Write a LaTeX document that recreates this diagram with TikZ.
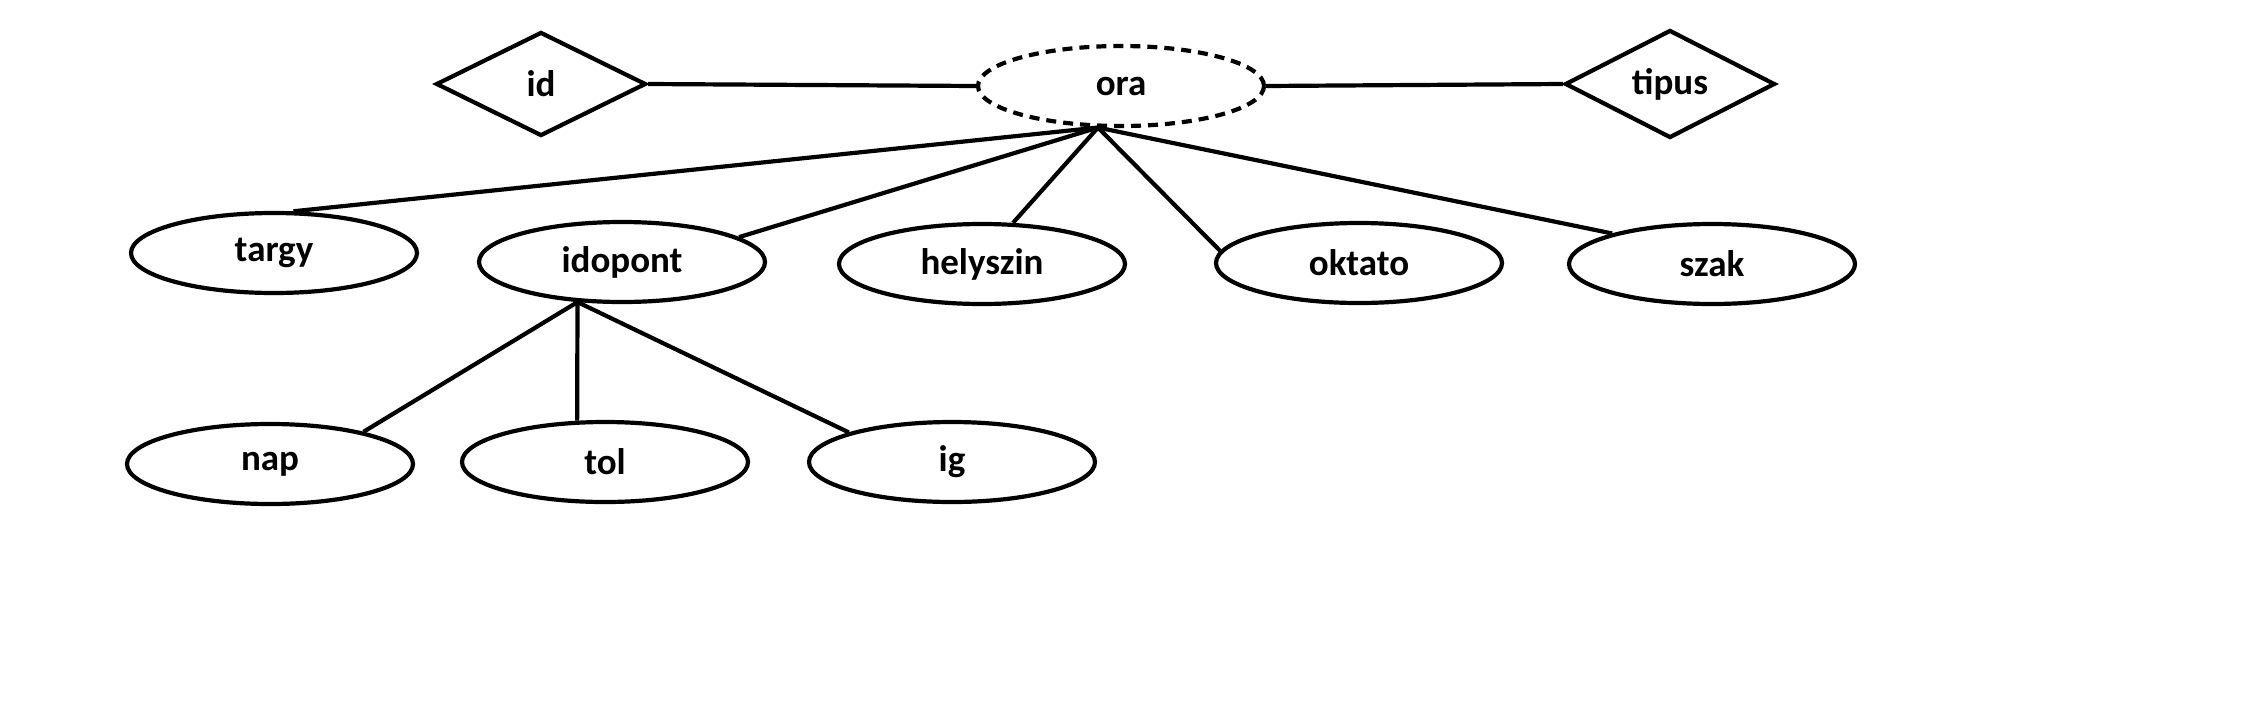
\documentclass[tikz,border=0pt]{standalone}
\usepackage{fontspec}
\setmainfont{Carlito}
\usetikzlibrary{shapes.geometric}
\tikzset{
  attr/.style={draw, ellipse, line width=2.1pt, minimum width=143pt, minimum height=40pt, inner sep=0pt, font=\fontsize{18.5}{21}\selectfont\bfseries},
  weakattr/.style={attr, dash pattern=on 5pt off 3.5pt},
  rel/.style={draw, diamond, line width=2.1pt, minimum width=105pt, minimum height=52pt, inner sep=0pt, font=\fontsize{18.5}{21}\selectfont\bfseries},
  conn/.style={line width=2.1pt}
}
\begin{document}
\begin{tikzpicture}[x=0.5pt, y=-0.5pt]
\useasboundingbox (0,0) rectangle (2241,702);
\node[rel] (id) at (541,84) {id};
\node[weakattr] (ora) at (1121,86) {ora};
\node[rel] (tipus) at (1670,84) {tipus};
\node[attr] (targy) at (274,253) {targy};
\node[attr] (idopont) at (622,262) {idopont};
\node[attr] (helyszin) at (982,264) {helyszin};
\node[attr] (oktato) at (1359,263) {oktato};
\node[attr] (szak) at (1712,264) {szak};
\node[attr] (nap) at (270,464) {nap};
\node[attr] (tol) at (605,462) {tol};
\node[attr] (ig) at (952,462) {ig};
\draw[conn] (id.east) -- (ora.west);
\draw[conn] (ora.east) -- (tipus.west);
\draw[conn] (ora.241) -- (targy.65);
\draw[conn] (ora.241) -- (idopont.12);
\draw[conn] (ora.241) -- (helyszin.53);
\draw[conn] (ora.241) -- (oktato.175.5);
\draw[conn] (ora.241) -- (szak.163.5);
\draw[conn] (idopont.222) -- (nap.19);
\draw[conn] (idopont.222) -- (tol.124);
\draw[conn] (idopont.222) -- (ig.164);
\end{tikzpicture}
\end{document}
